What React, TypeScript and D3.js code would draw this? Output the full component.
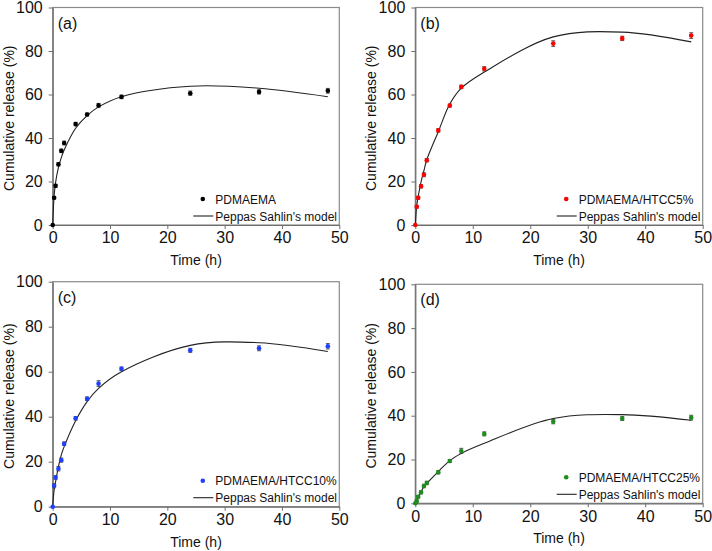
import React from "react";
import * as d3 from "d3";

// sampling times (h), shared by all four panels
const times = [0, 0.25, 0.5, 1, 1.5, 2, 4, 6, 8, 12, 24, 36, 48];

// (a) PDMAEMA
const releaseA = [0, 12.5, 18, 27.9, 34.1, 37.7, 46.4, 50.8, 55, 58.9, 60.6, 61.2, 61.7];
const errorA = [0, 0.6, 0.7, 0.8, 0.8, 0.9, 0.8, 0.7, 0.9, 0.8, 1.0, 1.0, 1.1];
const modelA = [0, 13.5, 19.5, 26.5, 31, 34.5, 44.5, 50.3, 54.3, 59, 63.8, 62.9, 59];

// (b) PDMAEMA/HTCC5%
const releaseB = [0, 8.4, 12.5, 17.8, 23.1, 29.8, 43.5, 54.9, 63.5, 71.8, 83.4, 85.8, 87.1];
const errorB = [0, 0.6, 0.7, 0.8, 0.9, 0.8, 0.8, 0.7, 0.8, 1.0, 1.3, 1.0, 1.3];
const modelB = [0, 9, 13, 19.8, 25, 30, 42.9, 55.6, 62.9, 70.3, 86.5, 88.7, 84.2];

// (c) PDMAEMA/HTCC10%
const releaseC = [0, 9.3, 13, 16.9, 20.7, 28, 39.3, 48, 54.7, 61.3, 69.5, 70.4, 71.3];
const errorC = [0, 0.9, 0.8, 1.0, 0.9, 0.8, 0.8, 0.8, 1.3, 0.8, 0.9, 1.1, 1.2];
const modelC = [0, 7.4, 11, 17.8, 23, 26.7, 38.2, 46.7, 52.6, 60, 71.7, 72.9, 69];

// (d) PDMAEMA/HTCC25%
const releaseD = [0, 1, 3, 5, 7.9, 9.3, 14.2, 19.3, 23.9, 31.7, 37.3, 38.7, 39.1];
const errorD = [0, 0.5, 0.6, 0.7, 0.8, 0.8, 0.8, 0.7, 1.2, 0.9, 1.0, 0.9, 1.1];
const modelD = [0, 1.5, 3, 5.3, 7.6, 9.1, 14.5, 19.5, 22.8, 27.4, 38.7, 40.5, 37.9];

const xTicks = [0, 10, 20, 30, 40, 50];
const yTicks = [0, 20, 40, 60, 80, 100];

const panels = [
  { tag: "(a)", name: "PDMAEMA", color: "#000000", values: releaseA, errors: errorA, model: modelA,
    left: 52.7, right: 339.3, top: 7.5, bottom: 225 },
  { tag: "(b)", name: "PDMAEMA/HTCC5%", color: "#ff0000", values: releaseB, errors: errorB, model: modelB,
    left: 415.3, right: 702.7, top: 7.5, bottom: 225 },
  { tag: "(c)", name: "PDMAEMA/HTCC10%", color: "#2040ff", values: releaseC, errors: errorC, model: modelC,
    left: 52.7, right: 339.3, top: 281.7, bottom: 506.7 },
  { tag: "(d)", name: "PDMAEMA/HTCC25%", color: "#1e8c1e", values: releaseD, errors: errorD, model: modelD,
    left: 415.3, right: 702.7, top: 284.3, bottom: 503.3 },
];

const FONT = "'Liberation Sans', Arial, sans-serif";

const App = () => {
  const ref = React.useRef<SVGSVGElement>(null);

  React.useEffect(() => {
    const svg = d3.select(ref.current);
    svg.selectAll("*").remove();

    panels.forEach((p) => {
      const x = d3.scaleLinear().domain([0, 50]).range([p.left, p.right]);
      const y = d3.scaleLinear().domain([0, 100]).range([p.bottom, p.top]);
      const g = svg.append("g");

      // frame (top/right)
      g.append("rect")
        .attr("x", p.left).attr("y", p.top)
        .attr("width", p.right - p.left).attr("height", p.bottom - p.top)
        .attr("fill", "none").attr("stroke", "#8a8a8a").attr("stroke-width", 1.2);

      // axes
      const xAxis = g.append("g")
        .attr("transform", `translate(0,${p.bottom})`)
        .call(d3.axisBottom(x).tickValues(xTicks).tickSize(4).tickPadding(3).tickSizeOuter(0));
      const yAxis = g.append("g")
        .attr("transform", `translate(${p.left},0)`)
        .call(d3.axisLeft(y).tickValues(yTicks).tickSize(4).tickPadding(6).tickSizeOuter(0));
      [xAxis, yAxis].forEach((a) => {
        a.select(".domain").attr("stroke", "#6e6e6e").attr("stroke-width", 1.2);
        a.selectAll(".tick line").attr("stroke", "#6e6e6e");
        a.selectAll(".tick text").attr("fill", "#111").style("font-family", FONT).style("font-size", "16px");
      });

      // axis titles
      g.append("text")
        .attr("x", (p.left + p.right) / 2).attr("y", p.bottom + 40)
        .attr("text-anchor", "middle")
        .style("font-family", FONT).style("font-size", "14px").attr("fill", "#111")
        .text("Time (h)");
      g.append("text")
        .attr("transform", `translate(${p.left - 39},${(p.top + p.bottom) / 2 + 2}) rotate(-90)`)
        .attr("text-anchor", "middle")
        .style("font-family", FONT).style("font-size", "14px").attr("fill", "#111")
        .text("Cumulative release (%)");

      // panel tag
      g.append("text")
        .attr("x", p.left + 5).attr("y", p.top + 21)
        .style("font-family", FONT).style("font-size", "16px").attr("fill", "#111")
        .text(p.tag);

      // model curve
      const line = d3.line<number>()
        .x((_, i) => x(times[i]))
        .y((d) => y(d))
        .curve(d3.curveCatmullRom);
      g.append("path")
        .attr("d", line(p.model))
        .attr("fill", "none").attr("stroke", "#222").attr("stroke-width", 1.1);

      // error bars
      const pts = times.map((t, i) => ({ t, v: p.values[i], e: p.errors[i] }));
      const eb = g.append("g").attr("stroke", "#333").attr("stroke-width", 0.8);
      pts.filter((d) => d.e > 0).forEach((d) => {
        eb.append("line").attr("x1", x(d.t)).attr("x2", x(d.t)).attr("y1", y(d.v - d.e)).attr("y2", y(d.v + d.e));
        eb.append("line").attr("x1", x(d.t) - 2).attr("x2", x(d.t) + 2).attr("y1", y(d.v - d.e)).attr("y2", y(d.v - d.e));
        eb.append("line").attr("x1", x(d.t) - 2).attr("x2", x(d.t) + 2).attr("y1", y(d.v + d.e)).attr("y2", y(d.v + d.e));
      });

      // data points
      g.selectAll(".pt").data(pts).enter().append("circle")
        .attr("cx", (d) => x(d.t)).attr("cy", (d) => y(d.v))
        .attr("r", 2.3).attr("fill", p.color);

      // legend
      const lx = p.right - 124;
      const ly1 = p.bottom - 26;
      const ly2 = p.bottom - 9;
      g.append("circle").attr("cx", lx - 12.5).attr("cy", ly1).attr("r", 2.3).attr("fill", p.color);
      g.append("text").attr("x", lx).attr("y", ly1 + 4.5)
        .style("font-family", FONT).style("font-size", "12px").attr("fill", "#111")
        .text(p.name);
      g.append("line").attr("x1", lx - 22).attr("x2", lx - 2).attr("y1", ly2).attr("y2", ly2)
        .attr("stroke", "#222").attr("stroke-width", 1.1);
      g.append("text").attr("x", lx).attr("y", ly2 + 4.5)
        .style("font-family", FONT).style("font-size", "12px").attr("fill", "#111")
        .text("Peppas Sahlin's model");
    });
  }, []);

  return (
    <svg ref={ref} width={712} height={551}
      style={{ position: "absolute", left: 0, top: 0, background: "#fff" }} />
  );
};

export default App;
